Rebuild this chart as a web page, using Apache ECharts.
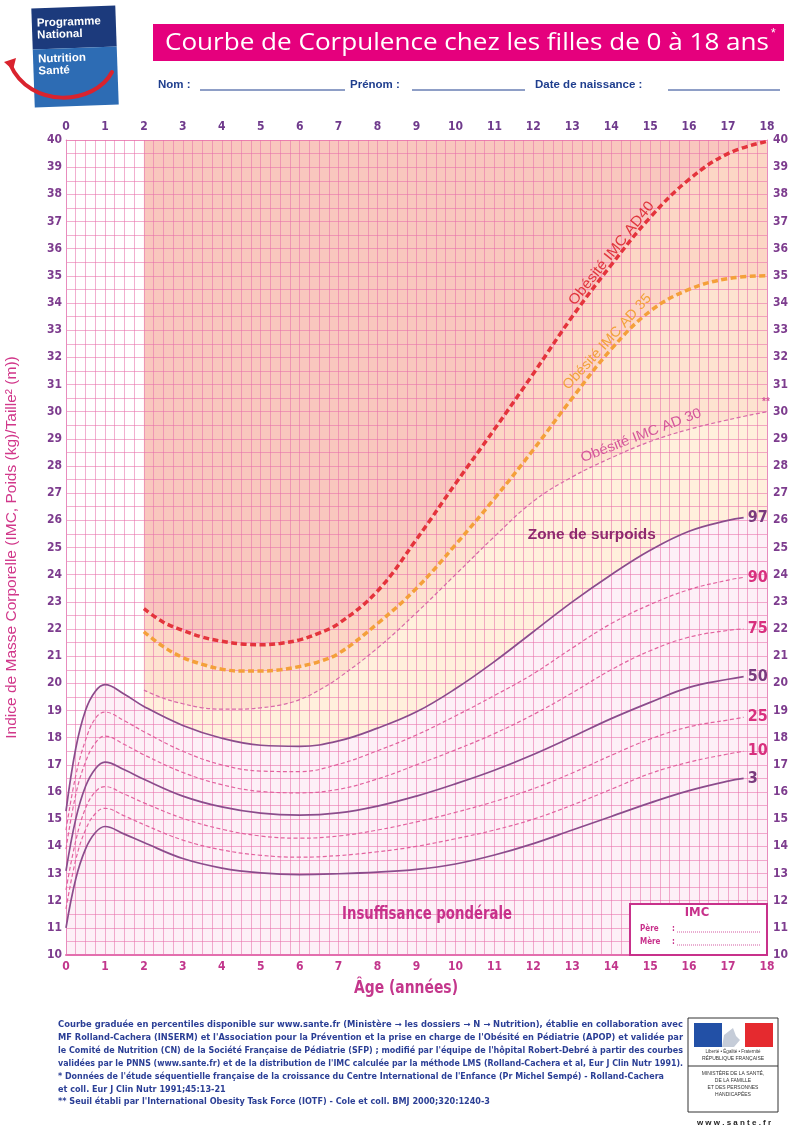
<!DOCTYPE html>
<html><head><meta charset="utf-8">
<script src="https://cdn.jsdelivr.net/npm/echarts@6.0.0/dist/echarts.min.js"></script>
<style>html,body{margin:0;padding:0;background:#fff}#c{width:790px;height:1130px}</style>
</head><body><div id="c"></div>
<script>
// ---------- DATA ----------
const ages = [0,0.25,0.5,0.75,1,1.5,2,3,4,5,6,7,8,9,10,11,12,13,14,15,16,17,17.4];
const p97 = [15.3,17.6,19.0,19.7,19.95,19.6,19.15,18.45,17.98,17.72,17.68,17.88,18.35,18.95,19.8,20.8,21.9,23.0,24.0,24.9,25.6,26.0,26.1];
const p90 = [14.6,16.6,17.9,18.7,18.94,18.62,18.22,17.5,17.0,16.77,16.75,17.02,17.52,18.1,18.8,19.55,20.35,21.3,22.2,22.9,23.45,23.8,23.9];
const p75 = [13.9,15.9,17.1,17.8,18.06,17.75,17.37,16.72,16.27,16.02,15.97,16.1,16.48,17.0,17.55,18.15,18.85,19.65,20.5,21.2,21.7,21.95,22.0];
const p50 = [13.1,15.0,16.2,16.85,17.1,16.82,16.47,15.85,15.45,15.22,15.15,15.23,15.48,15.85,16.3,16.8,17.38,18.03,18.7,19.3,19.85,20.15,20.25];
const p25 = [12.4,14.2,15.4,16.0,16.2,15.92,15.6,15.03,14.63,14.38,14.3,14.38,14.6,14.9,15.25,15.65,16.12,16.7,17.35,17.95,18.4,18.65,18.75];
const p10 = [11.7,13.5,14.6,15.2,15.4,15.12,14.8,14.23,13.87,13.67,13.6,13.66,13.8,14.0,14.28,14.6,15.0,15.52,16.1,16.68,17.1,17.4,17.5];
const p3  = [11.0,12.8,13.9,14.5,14.73,14.45,14.14,13.55,13.2,13.02,12.96,12.99,13.05,13.15,13.35,13.68,14.1,14.6,15.1,15.6,16.05,16.4,16.5];

const obAges = [2,2.5,3,3.5,4,4.5,5,5.5,6,6.5,7,8,9,10,11,12,13,14,15,16,17,18];
const ad40 = [22.75,22.25,21.95,21.7,21.55,21.45,21.42,21.47,21.6,21.85,22.2,23.4,25.3,27.35,29.35,31.4,33.5,35.4,37.15,38.55,39.5,39.95];
const ad35 = [21.9,21.35,20.95,20.7,20.52,20.45,20.45,20.5,20.62,20.8,21.1,22.2,23.5,25.1,26.8,28.6,30.5,32.3,33.7,34.5,34.9,35.0];
const ad30 = [19.75,19.45,19.25,19.1,19.05,19.05,19.1,19.2,19.4,19.75,20.2,21.3,22.6,24.0,25.4,26.7,27.6,28.3,28.9,29.35,29.7,30.0];

const xTickLabels = ['0','1','2','3','4','5','6','7','8','9','10','11','12','13','14','15','16','17','18'];
const yTickLabels = ['10','11','12','13','14','15','16','17','18','19','20','21','22','23','24','25','26','27','28','29','30','31','32','33','34','35','36','37','38','39','40'];
const percentileNames = ['97','90','75','50','25','10','3'];

// ---------- STYLE ----------
const FN = '"Liberation Sans Narrow","DejaVu Sans Condensed","Liberation Sans",sans-serif';
const FS = '"Liberation Sans",Arial,sans-serif';
const gridColor = 'rgba(232,110,170,0.55)';
const SM = 0.4;
const zip = (xs, ys) => xs.map((x, i) => [x, ys[i]]);

const chart = echarts.init(document.getElementById('c'), null, {renderer: 'canvas', width: 790, height: 1130});

function fill(xs, ys, color, origin) {
  return {type: 'line', data: zip(xs, ys), smooth: SM, symbol: 'none', silent: true, z: 0,
    lineStyle: {width: 0, opacity: 0}, areaStyle: {color: color, opacity: 1, origin: origin}, animation: false};
}
function curve(ys, xs, color, width, type, label, labelColor) {
  const s = {type: 'line', data: zip(xs, ys), smooth: SM, symbol: 'none', silent: true, z: 3, animation: false,
    lineStyle: {color: color, width: width, type: type}};
  if (label) s.endLabel = {show: true, formatter: label, color: labelColor, fontFamily: FN, fontWeight: 'bold', fontSize: 16, distance: 4};
  return s;
}
const p97Fill = p97.concat([p97[p97.length - 1]]);
const agesFill = ages.concat([18]);

const purple = '#8b4c8c', pink = '#e2639f';
const option = {
  animation: false,
  grid: {left: 66, top: 140, width: 701, height: 815, containLabel: false, outerBoundsMode: 'none'},
  xAxis: [
    {type: 'value', min: 0, max: 18, interval: 1, position: 'bottom', z: 1,
      axisLine: {show: true, onZero: false, lineStyle: {color: '#e36fae', width: 2}},
      axisTick: {show: false},
      axisLabel: {color: '#c2368c', fontFamily: FN, fontWeight: 'bold', fontSize: 12, margin: 6, formatter: v => xTickLabels[Math.round(v)]},
      splitLine: {show: true, lineStyle: {color: gridColor, width: 1}},
      minorTick: {show: false, splitNumber: 4},
      minorSplitLine: {show: true, lineStyle: {color: gridColor, width: 1}}},
    {type: 'value', min: 0, max: 18, interval: 1, position: 'top', z: 1,
      axisLine: {show: true, onZero: false, lineStyle: {color: gridColor, width: 1}},
      axisTick: {show: false},
      axisLabel: {color: '#6f3a8c', fontFamily: FN, fontWeight: 'bold', fontSize: 12, margin: 7, formatter: v => xTickLabels[Math.round(v)]},
      splitLine: {show: false}}
  ],
  yAxis: [
    {type: 'value', min: 10, max: 40, interval: 1, position: 'left', z: 1,
      name: 'Indice de Masse Corporelle (IMC, Poids (kg)/Taille² (m))', nameLocation: 'middle', nameGap: 46, nameRotate: 90,
      nameTextStyle: {color: '#d1378a', fontFamily: FS, fontSize: 15.5},
      axisLine: {show: true, onZero: false, lineStyle: {color: '#e88cbd', width: 1}},
      axisTick: {show: false},
      axisLabel: {color: '#7d3c8e', fontFamily: FN, fontWeight: 'bold', fontSize: 12, margin: 4, formatter: v => yTickLabels[Math.round(v) - 10]},
      splitLine: {show: true, lineStyle: {color: gridColor, width: 1}},
      minorTick: {show: false, splitNumber: 2},
      minorSplitLine: {show: true, lineStyle: {color: gridColor, width: 1}}},
    {type: 'value', min: 10, max: 40, interval: 1, position: 'right', z: 1,
      axisLine: {show: true, onZero: false, lineStyle: {color: '#e88cbd', width: 1}},
      axisTick: {show: false},
      axisLabel: {color: '#7d3c8e', fontFamily: FN, fontWeight: 'bold', fontSize: 12, margin: 6, formatter: v => yTickLabels[Math.round(v) - 10]},
      splitLine: {show: false}}
  ],
  series: [
    fill(obAges, ad40, '#f9c7be', 'end'),
    fill(obAges, ad40, '#fcd6c5', 'start'),
    fill(obAges, ad35, '#fde3d0', 'start'),
    fill(obAges, ad30, '#fff0dc', 'start'),
    fill(agesFill, p97Fill, '#fdf0f7', 'start'),
    curve(p90, ages, pink, 1.2, [4, 2.5], percentileNames[1], '#d8307e'),
    curve(p75, ages, pink, 1.2, [4, 2.5], percentileNames[2], '#d8307e'),
    curve(p25, ages, pink, 1.2, [4, 2.5], percentileNames[4], '#d8307e'),
    curve(p10, ages, pink, 1.2, [4, 2.5], percentileNames[5], '#d8307e'),
    curve(p97, ages, purple, 1.7, 'solid', percentileNames[0], '#7a3a7e'),
    curve(p50, ages, purple, 1.7, 'solid', percentileNames[3], '#7a3a7e'),
    curve(p3, ages, purple, 1.7, 'solid', percentileNames[6], '#7a3a7e'),
    curve(ad30, obAges, '#d86aa8', 1.2, [4, 2.5]),
    curve(ad35, obAges, '#f4a03a', 3.5, [6, 3.5]),
    curve(ad40, obAges, '#e4343c', 3.5, [6, 3.5])
  ]
};
chart.setOption(option);

// ---------- annotations ----------
const P = (x, y) => chart.convertToPixel({xAxisIndex: 0, yAxisIndex: 0}, [x, y]);
function interp(xs, ys, x) {
  for (let i = 1; i < xs.length; i++) if (x <= xs[i]) { const t = (x - xs[i-1]) / (xs[i] - xs[i-1]); return ys[i-1] + t * (ys[i] - ys[i-1]); }
  return ys[ys.length - 1];
}
const mc = document.createElement('canvas').getContext('2d');
function fitScale(text, font, w) { mc.font = font; return w / mc.measureText(text).width; }
function curveLabel(text, xs, ys, age, off, color, size, len) {
  const a = P(age - 0.4, interp(xs, ys, age - 0.4)), b = P(age + 0.4, interp(xs, ys, age + 0.4));
  const ang = Math.atan2(a[1] - b[1], b[0] - a[0]);
  const c = P(age, interp(xs, ys, age));
  const font = size + 'px ' + FS;
  return {type: 'text', x: c[0] - off * Math.sin(ang), y: c[1] - off * Math.cos(ang), rotation: ang, z: 10,
    scaleX: fitScale(text, font, len),
    style: {text: text, fill: color, font: font, align: 'center', verticalAlign: 'middle'}};
}

const g = [];
// Logo PNNS
g.push({type: 'group', x: 75, y: 56, rotation: 0.035, z: 10, children: [
  {type: 'rect', shape: {x: -42, y: -49, width: 84, height: 41}, style: {fill: '#1c3a7c'}},
  {type: 'rect', shape: {x: -42, y: -8, width: 84, height: 58}, style: {fill: '#2d6cb4'}},
  {type: 'text', x: -37, y: -40, style: {text: 'Programme', fill: '#fff', font: 'bold 11.5px ' + FS}},
  {type: 'text', x: -37, y: -28, style: {text: 'National', fill: '#fff', font: 'bold 11.5px ' + FS}},
  {type: 'text', x: -37, y: -4, style: {text: 'Nutrition', fill: '#fff', font: 'bold 11.5px ' + FS}},
  {type: 'text', x: -37, y: 8, style: {text: 'Santé', fill: '#fff', font: 'bold 11.5px ' + FS}}
]});
g.push({type: 'bezierCurve', z: 11, shape: {x1: 10, y1: 64, x2: 112, y2: 72, cpx1: 30, cpy1: 110, cpx2: 95, cpy2: 105},
  style: {stroke: '#d9232e', lineWidth: 4, fill: null, lineCap: 'round'}});
g.push({type: 'polygon', z: 11, shape: {points: [[4, 62], [16, 58], [13, 70]]}, style: {fill: '#d9232e'}});
// title bar
g.push({type: 'rect', shape: {x: 153, y: 24, width: 631, height: 37}, style: {fill: '#e5007d'}, z: 10});
const tTitle = 'Courbe de Corpulence chez les filles de 0 à 18 ans', fTitle = '23px "Open Sans",' + FS;
g.push({type: 'text', x: 165, y: 43, scaleX: fitScale(tTitle, fTitle, 604), z: 11,
  style: {text: tTitle, fill: '#fff', font: fTitle, verticalAlign: 'middle'}});
g.push({type: 'text', x: 771, y: 34, z: 11, style: {text: '*', fill: '#fff', font: '12px ' + FS, verticalAlign: 'middle'}});
// form line
const navy = '#1f3e8e';
[['Nom :', 158, 200, 345], ['Prénom :', 350, 412, 525], ['Date de naissance :', 535, 668, 780]].forEach(f => {
  g.push({type: 'text', x: f[1], y: 85, z: 10, style: {text: f[0], fill: navy, font: 'bold 11.5px ' + FS, verticalAlign: 'middle'}});
  g.push({type: 'line', z: 10, shape: {x1: f[2], y1: 90, x2: f[3], y2: 90}, style: {stroke: navy, lineWidth: 1}});
});
// obesity labels
g.push(curveLabel('Obésité IMC AD40', obAges, ad40, 14.15, 7, '#e0363e', 14.5, 128));
g.push(curveLabel('Obésité IMC AD 35', obAges, ad35, 14.05, 8, '#f2a13a', 14, 124));
g.push(curveLabel('Obésité IMC AD 30', obAges, ad30, 14.85, 9, '#d4579a', 14, 128));
let q = P(18, 30);
g.push({type: 'text', x: q[0] - 5, y: q[1] - 9, z: 10, style: {text: '**', fill: '#d4579a', font: 'bold 10px ' + FS, verticalAlign: 'middle'}});
q = P(13.5, 25.45);
let t = 'Zone de surpoids', f0 = 'bold 14px ' + FS;
g.push({type: 'text', x: q[0], y: q[1], z: 10, scaleX: fitScale(t, f0, 128), style: {text: t, fill: '#8f2a6e', font: f0, align: 'center', verticalAlign: 'middle'}});
q = P(9.27, 11.5);
t = 'Insuffisance pondérale'; f0 = 'bold 17px ' + FN;
g.push({type: 'text', x: q[0], y: q[1], z: 10, scaleX: fitScale(t, f0, 170), style: {text: t, fill: '#c8318b', font: f0, align: 'center', verticalAlign: 'middle'}});
// IMC box
g.push({type: 'rect', z: 10, shape: {x: 630, y: 904, width: 137, height: 51}, style: {fill: '#fff', stroke: '#c8318b', lineWidth: 2}});
g.push({type: 'text', x: 697, y: 913, z: 11, style: {text: 'IMC', fill: '#c8318b', font: 'bold 13px ' + FN, align: 'center', verticalAlign: 'middle'}});
[['Père', 929], ['Mère', 942]].forEach(r => {
  g.push({type: 'text', x: 640, y: r[1], z: 11, style: {text: r[0], fill: '#c8318b', font: 'bold 8px ' + FN, verticalAlign: 'middle'}});
  g.push({type: 'text', x: 672, y: r[1], z: 11, style: {text: ':', fill: '#c8318b', font: 'bold 8px ' + FN, verticalAlign: 'middle'}});
  g.push({type: 'line', z: 11, shape: {x1: 677, y1: r[1] + 3, x2: 760, y2: r[1] + 3}, style: {stroke: '#c8318b', lineWidth: 0.8, lineDash: [1, 1]}});
});
// x-axis name
t = 'Âge (années)'; f0 = 'bold 18px ' + FN;
g.push({type: 'text', x: 406, y: 988, z: 10, scaleX: fitScale(t, f0, 104), style: {text: t, fill: '#c4378c', font: f0, align: 'center', verticalAlign: 'middle'}});
// footer
const foot = [
  ['Courbe graduée en percentiles disponible sur www.sante.fr (Ministère → les dossiers → N → Nutrition), établie en collaboration avec', 625],
  ['MF Rolland-Cachera (INSERM) et l\'Association pour la Prévention et la prise en charge de l\'Obésité en Pédiatrie (APOP) et validée par', 625],
  ['le Comité de Nutrition (CN) de la Société Française de Pédiatrie (SFP) ; modifié par l\'équipe de l\'hôpital Robert-Debré à partir des courbes', 625],
  ['validées par le PNNS (www.sante.fr) et de la distribution de l\'IMC calculée par la méthode LMS (Rolland-Cachera et al, Eur J Clin Nutr 1991).', 625],
  ['* Données de l\'étude séquentielle française de la croissance du Centre International de l\'Enfance (Pr Michel Sempé) - Rolland-Cachera', 606],
  ['et coll. Eur J Clin Nutr 1991;45:13-21', 0],
  ['** Seuil établi par l\'International Obesity Task Force (IOTF) - Cole et coll. BMJ 2000;320:1240-3', 0]
];
const fFoot = 'bold 8px ' + FN;
let sAvg = 0;
foot.slice(0, 5).forEach(f => sAvg += fitScale(f[0], fFoot, f[1]) / 5);
foot.forEach((f, i) => {
  const s = f[1] ? fitScale(f[0], fFoot, f[1]) : sAvg;
  g.push({type: 'text', x: 58, y: 1025 + i * 12.9, scaleX: s, z: 10, style: {text: f[0], fill: '#2b3f96', font: fFoot, verticalAlign: 'middle'}});
});
// ministry logo
g.push({type: 'rect', z: 10, shape: {x: 688, y: 1018, width: 90, height: 94}, style: {fill: '#fff', stroke: '#333', lineWidth: 1}});
g.push({type: 'rect', z: 11, shape: {x: 694, y: 1023, width: 28, height: 24}, style: {fill: '#2250a6'}});
g.push({type: 'rect', z: 11, shape: {x: 745, y: 1023, width: 28, height: 24}, style: {fill: '#e52a2f'}});
g.push({type: 'polygon', z: 11, shape: {points: [[722, 1047], [724, 1035], [733, 1028], [736, 1036], [740, 1040], [734, 1047]]}, style: {fill: '#c5ccd8'}});
g.push({type: 'text', x: 733, y: 1052, z: 11, style: {text: 'Liberté • Égalité • Fraternité', fill: '#333', font: '4.5px ' + FS, align: 'center', verticalAlign: 'middle'}});
g.push({type: 'text', x: 733, y: 1059, z: 11, style: {text: 'RÉPUBLIQUE FRANÇAISE', fill: '#333', font: '5px ' + FS, align: 'center', verticalAlign: 'middle'}});
g.push({type: 'line', z: 11, shape: {x1: 688, y1: 1066, x2: 778, y2: 1066}, style: {stroke: '#333', lineWidth: 1}});
['MINISTÈRE DE LA SANTÉ,', 'DE LA FAMILLE', 'ET DES PERSONNES', 'HANDICAPÉES'].forEach((tx, i) => {
  g.push({type: 'text', x: 733, y: 1074 + i * 7, z: 11, style: {text: tx, fill: '#333', font: '5px ' + FS, align: 'center', verticalAlign: 'middle'}});
});
g.push({type: 'text', x: 734, y: 1123, z: 11, style: {text: 'w w w . s a n t e . f r', fill: '#222', font: 'bold 8px ' + FS, align: 'center', verticalAlign: 'middle'}});

chart.setOption({graphic: g});
</script></body></html>
